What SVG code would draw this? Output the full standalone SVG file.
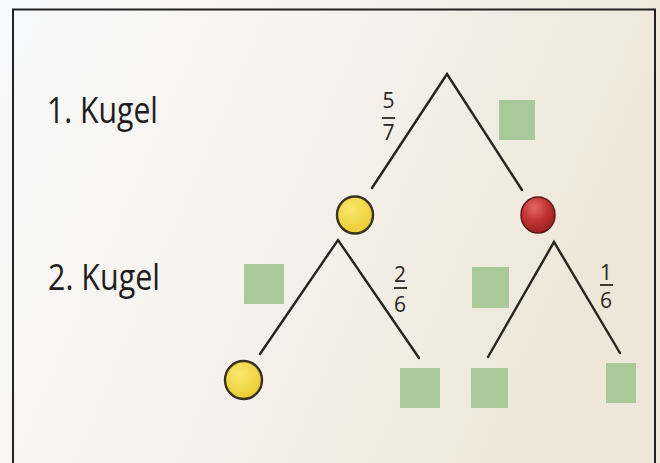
<svg xmlns="http://www.w3.org/2000/svg" width="660" height="463" viewBox="0 0 660 463">
  <defs>
    <linearGradient id="bg" x1="0" y1="0" x2="1" y2="0.3">
      <stop offset="0" stop-color="#f8f9fb"/>
      <stop offset="0.45" stop-color="#f6f4ef"/>
      <stop offset="1" stop-color="#eee6d8"/>
    </linearGradient>
    <radialGradient id="yel" cx="0.4" cy="0.35" r="0.7">
      <stop offset="0" stop-color="#fbe86e"/>
      <stop offset="1" stop-color="#e9ca2e"/>
    </radialGradient>
    <radialGradient id="red" cx="0.4" cy="0.3" r="0.75">
      <stop offset="0" stop-color="#e26a62"/>
      <stop offset="0.55" stop-color="#bf2f30"/>
      <stop offset="1" stop-color="#962022"/>
    </radialGradient>
    <style>
      .lbl { font-family: "Open Sans", "Noto Sans", sans-serif; fill: #1e1c1c; }
      .frac { font-family: "Open Sans", "Noto Sans", sans-serif; font-size: 21px; font-weight: 500; fill: #2a2520; text-anchor: middle; }
      .bar { stroke: #2a2520; stroke-width: 1.8; }
      .branch { stroke: #2a221e; stroke-width: 2.4; fill: none; stroke-linecap: round; }
      .box { fill: #aac99b; }
      .ball-y { fill: url(#yel); stroke: #3a3220; stroke-width: 2.4; }
      .ball-r { fill: url(#red); stroke: #5a1818; stroke-width: 1.5; }
    </style>
  </defs>

  <rect x="0" y="0" width="660" height="463" fill="url(#bg)"/>
  <rect x="13" y="9.5" width="642" height="470" fill="none" stroke="#222" stroke-width="2"/>

  <g id="labels">
    <text class="lbl" x="47" y="123" font-size="37" textLength="111" lengthAdjust="spacingAndGlyphs">1. Kugel</text>
    <text class="lbl" x="48" y="290" font-size="36" textLength="112" lengthAdjust="spacingAndGlyphs">2. Kugel</text>
  </g>

  <g id="connectors">
    <polyline class="branch" points="372,188 447,74 522,190"/>
    <polyline class="branch" points="260,354 338,240 419,358"/>
    <polyline class="branch" points="488,357 554,242 620,353"/>
  </g>

  <g id="frac-5-7">
    <text class="frac" x="388.5" y="108">5</text>
    <line class="bar" x1="382" y1="118" x2="395" y2="118"/>
    <text class="frac" x="388.5" y="140">7</text>
  </g>
  <g id="frac-2-6">
    <text class="frac" x="400" y="282">2</text>
    <line class="bar" x1="394" y1="288" x2="407" y2="288"/>
    <text class="frac" x="400" y="312">6</text>
  </g>
  <g id="frac-1-6">
    <text class="frac" x="606" y="280">1</text>
    <line class="bar" x1="600" y1="285" x2="613" y2="285"/>
    <text class="frac" x="606" y="308">6</text>
  </g>

  <g id="n-root-box"><rect class="box" x="499" y="100" width="36" height="40"/></g>
  <g id="n-yellow1"><ellipse class="ball-y" cx="355" cy="215" rx="18" ry="18.5"/></g>
  <g id="n-red1"><ellipse class="ball-r" cx="538" cy="215" rx="17" ry="18"/></g>
  <g id="n-box-l2a"><rect class="box" x="244" y="264" width="40" height="40"/></g>
  <g id="n-box-l2b"><rect class="box" x="472" y="267" width="37" height="41"/></g>
  <g id="n-yellow2"><ellipse class="ball-y" cx="243.5" cy="380" rx="18.5" ry="19"/></g>
  <g id="n-box-l3a"><rect class="box" x="400" y="368" width="40" height="40"/></g>
  <g id="n-box-l3b"><rect class="box" x="471" y="368" width="37" height="40"/></g>
  <g id="n-box-l3c"><rect class="box" x="606" y="363" width="30" height="40"/></g>
</svg>
